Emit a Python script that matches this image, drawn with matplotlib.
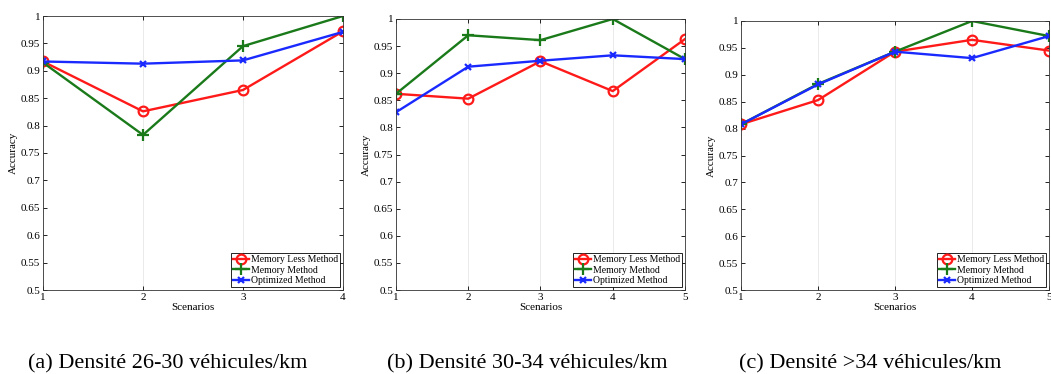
import numpy as np
import matplotlib.pyplot as plt

plt.rcParams['font.family'] = ['Liberation Serif', 'DejaVu Serif']

labels = ["Memory Less Method", "Memory Method", "Optimized Method"]
captions = ["(a) Densité 26-30 véhicules/km",
            "(b) Densité 30-34 véhicules/km",
            "(c) Densité >34 véhicules/km"]

# scénarios et précisions par panneau
scen_a = [1, 2, 3, 4]
less_a = [0.917, 0.826, 0.865, 0.972]
mem_a = [0.915, 0.783, 0.945, 1.0]
opt_a = [0.917, 0.913, 0.919, 0.971]

scen_b = [1, 2, 3, 4, 5]
less_b = [0.862, 0.853, 0.922, 0.867, 0.963]
mem_b = [0.862, 0.970, 0.961, 1.0, 0.926]
opt_b = [0.828, 0.912, 0.923, 0.933, 0.926]

scen_c = [1, 2, 3, 4, 5]
less_c = [0.808, 0.853, 0.943, 0.965, 0.945]
mem_c = [0.808, 0.883, 0.943, 1.0, 0.972]
opt_c = [0.808, 0.882, 0.943, 0.931, 0.972]

panels = [(scen_a, less_a, mem_a, opt_a),
          (scen_b, less_b, mem_b, opt_b),
          (scen_c, less_c, mem_c, opt_c)]

# positions des axes (fraction de la figure)
boxes = [[43 / 1051, 1 - 290 / 374, 300 / 1051, 274 / 374],
         [396 / 1051, 1 - 290 / 374, 289 / 1051, 271 / 374],
         [741 / 1051, 1 - 290 / 374, 308 / 1051, 269 / 374]]
cap_x = [168 / 1051, 527 / 1051, 870 / 1051]

fig = plt.figure(figsize=(10.51, 3.74), dpi=100)

for i, (x, less, mem, opt) in enumerate(panels):
    ax = fig.add_axes(boxes[i])
    ax.plot(x, less, color='#ff1a1a', lw=1.7, marker='o', ms=7,
            mfc='none', mew=1.6, label=labels[0])
    ax.plot(x, mem, color='#1a7a1a', lw=1.7, marker='+', ms=9,
            mew=1.6, label=labels[1])
    ax.plot(x, opt, color='#1a2aff', lw=1.7, marker='x', ms=5,
            mew=1.6, label=labels[2])
    ax.set_xlim(x[0], x[-1])
    ax.set_ylim(0.5, 1.0)
    ax.set_xticks(x)
    ax.set_yticks(np.arange(0.5, 1.001, 0.05))
    ax.set_yticklabels(['0.5', '0.55', '0.6', '0.65', '0.7', '0.75',
                        '0.8', '0.85', '0.9', '0.95', '1'])
    ax.grid(axis='x', color='#e6e6e6', lw=0.6)
    ax.tick_params(direction='in', top=True, right=True, labelsize=8,
                   length=3, width=0.6, pad=2)
    for s in ax.spines.values():
        s.set_linewidth(0.6)
        s.set_color('#333333')
    ax.set_xlabel("Scenarios", fontsize=8, labelpad=1)
    ax.set_ylabel("Accuracy", fontsize=8, labelpad=2)
    leg = ax.legend(loc='lower right', fontsize=7, fancybox=False,
                    edgecolor='black', framealpha=1, borderpad=0.2,
                    labelspacing=0.15, handlelength=1.7, handletextpad=0.2,
                    borderaxespad=0.3)
    leg.get_frame().set_linewidth(0.6)
    fig.text(cap_x[i], 1 - 368 / 374, captions[i], fontsize=16,
             ha='center', va='baseline')

fig.savefig('out.png', dpi=100)
